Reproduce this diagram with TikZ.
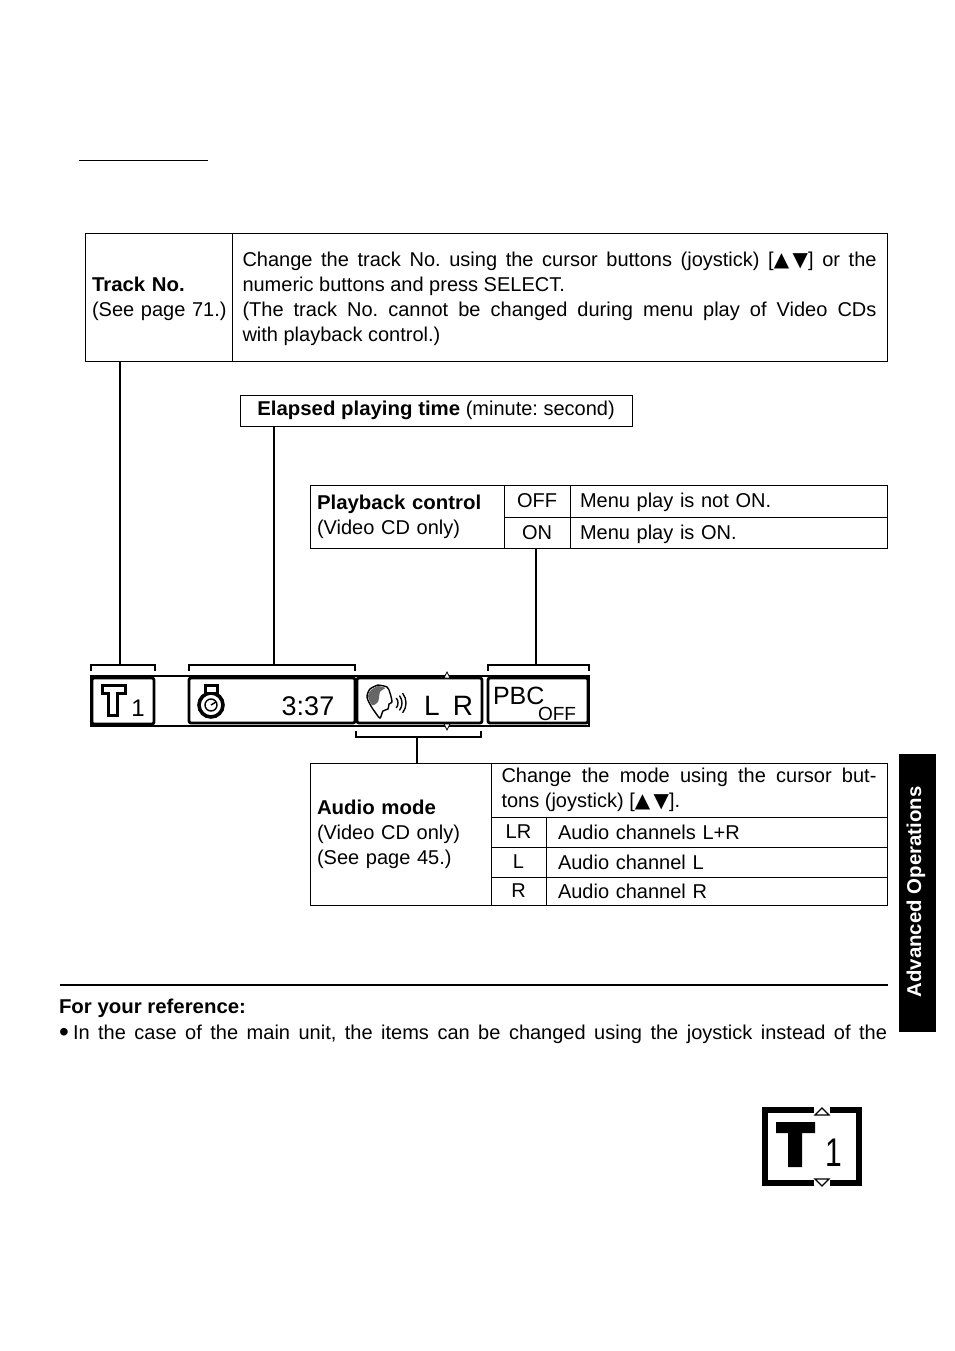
\documentclass[tikz,border=0pt]{standalone}
\usepackage{fontspec}
\setmainfont{Liberation Sans}[BoldFeatures={FakeStretch=1.02}]
\newfontfamily\symfont{DejaVu Sans}
\usetikzlibrary{positioning,calc}
\newcommand{\bodysize}{\fontsize{20}{25}\selectfont}
\newcommand{\updown}{{\symfont\fontsize{20}{25}\selectfont ▲\hspace{3.5pt}▼}}
\newcommand{\lowtext}[1]{\rule{0pt}{#1}}
\frenchspacing
\begin{document}
\begin{tikzpicture}[x=1pt, y=-1pt, node distance=0pt,
        every node/.style={font=\bodysize, inner sep=0pt, outer sep=0pt},
        tablecell/.style={draw, line width=1pt, inner xsep=7pt, align=left},
        textcell/.style={tablecell, inner xsep=10.5pt, align=justify},
        keycell/.style={draw, line width=1pt, align=center},
        dispcell/.style={draw, line width=2.8pt, rounded corners=2pt, fill=white},
        bracketline/.style={line width=1.2pt},
        linkline/.style={line width=1.1pt}]
        \useasboundingbox (0,0) rectangle (954,1351);
        \fill[white] (0,0) rectangle (954,1351);

        \draw[line width=1pt] (79,160.5) -- (208,160.5);

        \node[tablecell, text width=133pt, minimum height=128pt, anchor=north west] (trackhead) at (85,233)
            {\lowtext{18.5pt}\textbf{Track No.}\\\mbox{(See page 71.)}};
        \node[textcell, text width=634pt, minimum height=128pt, right=of trackhead] (trackinfo)
            {\lowtext{18.5pt}Change the track No. using the cursor buttons (joystick) [\updown] or the\linebreak numeric buttons and press SELECT.\\(The track No. cannot be changed during menu play of Video CDs\linebreak with playback control.)};

        \node[keycell, minimum width=392pt, minimum height=31pt, anchor=north west] (elapsed) at (240,395)
            {\textbf{Elapsed playing time} (minute: second)};

        \node[tablecell, text width=180pt, minimum height=63pt, anchor=north west] (pbchead) at (310,485)
            {\textbf{Playback control}\\(Video CD only)};
        \node[keycell, minimum width=66pt, minimum height=32pt, anchor=north west] (offkey) at (504,485) {OFF};
        \node[keycell, minimum width=66pt, minimum height=31pt, below=of offkey] (onkey) {ON};
        \node[tablecell, inner xsep=10pt, text width=297pt, minimum height=32pt, right=of offkey] (offinfo) {\lowtext{18pt}Menu play is not ON.};
        \node[tablecell, inner xsep=10pt, text width=297pt, minimum height=31pt, right=of onkey] (oninfo) {\lowtext{18pt}Menu play is ON.};

        \node[draw, line width=1.5pt, minimum width=498pt, minimum height=50pt, anchor=north west] (strip) at (91,676) {};
        \node[dispcell, minimum width=62pt, minimum height=46pt, anchor=north west] (trackcell) at (92,678) {};
        \node[dispcell, minimum width=166pt, minimum height=45pt, anchor=north west] (timecell) at (189,678) {};
        \node[dispcell, minimum width=125pt, minimum height=45pt, anchor=north west] (audiocell) at (357,678) {};
        \node[dispcell, minimum width=100pt, minimum height=45pt, anchor=north west] (pbccell) at (488,678) {};
        \foreach \basey/\tipy in {678/672, 724/730}
            \draw[line width=0.7pt, fill=white] (444,\basey) -- (450,\basey) -- (447,\tipy) -- cycle;

        \draw[line width=3pt, fill=white, line join=miter] (102,685) -- (125,685) -- (125,693) -- (117,693) -- (117,715) -- (108,715) -- (108,693) -- (102,693) -- cycle;
        \node[font=\fontsize{24}{24}\selectfont] (trackno) at (138,708) {1};
        \draw[line width=3.6pt, fill=white] (211,705) circle (12);
        \draw[line width=3pt, fill=white] (205,685) rectangle (217,693);
        \draw[line width=1.4pt] (211,705) circle (6);
        \draw[line width=1.4pt] (211,705) -- (216,702);
        \node[font=\fontsize{27}{27}\selectfont] (timeval) at (308,706) {3:37};
        \draw[line width=1.4pt, fill=white] plot[smooth] coordinates {(378,685) (387,687) (390,693) (392,702) (389,704) (388,709) (383,711) (380,718) (375,712) (371,706) (367,697) (370,689) (378,685)};
        \fill[black!60] plot[smooth] coordinates {(378,686) (385,688) (380,692) (378,702) (372,705) (368,696) (371,690) (378,686)};
        \foreach \waverad in {8,12,16}
            \draw[line width=1.4pt] ($(390,703)+(-38:\waverad)$) arc (-38:38:\waverad);
        \node[font=\fontsize{28}{28}\selectfont] (leftch) at (432,706) {L};
        \node[font=\fontsize{28}{28}\selectfont] (rightch) at (463,706) {R};
        \node[font=\fontsize{25}{25}\selectfont, anchor=base west] (pbclabel) at (493,704) {PBC};
        \node[font=\fontsize{19}{19}\selectfont, anchor=base west] (pbcstate) at (538,720) {OFF};

        \coordinate (tracktop) at (120,665);
        \coordinate (timetop) at (274,665);
        \coordinate (pbctop) at (536,665);
        \coordinate (audiotop) at (417,737);
        \draw[bracketline] (91,671) -- (91,665) -- (155,665) -- (155,671);
        \draw[bracketline] (189,671) -- (189,665) -- (355,665) -- (355,671);
        \draw[bracketline] (488,671) -- (488,665) -- (589,665) -- (589,671);
        \draw[bracketline] (356,731) -- (356,737) -- (481,737) -- (481,731);

        \node[tablecell, text width=167pt, minimum height=142pt, anchor=north west] (audiohead) at (310,763)
            {\textbf{Audio mode}\\(Video CD only)\\(See page 45.)};
        \node[textcell, text width=375pt, minimum height=54pt, anchor=north west] (audioinfo) at (491,763)
            {Change the mode using the cursor but-\linebreak tons (joystick) [\updown].};
        \node[keycell, minimum width=55pt, minimum height=30pt, anchor=north west] (lrkey) at (491,817) {LR};
        \node[keycell, minimum width=55pt, minimum height=30pt, below=of lrkey] (lkey) {L};
        \node[keycell, minimum width=55pt, minimum height=28pt, below=of lkey] (rkey) {R};
        \node[tablecell, inner xsep=12pt, text width=317pt, minimum height=30pt, right=of lrkey] (lrinfo) {Audio channels L+R};
        \node[tablecell, inner xsep=12pt, text width=317pt, minimum height=30pt, right=of lkey] (linfo) {Audio channel L};
        \node[tablecell, inner xsep=12pt, text width=317pt, minimum height=28pt, right=of rkey] (rinfo) {Audio channel R};

        \draw[linkline] (tracktop |- trackhead.south) -- (tracktop);
        \draw[linkline] (timetop |- elapsed.south) -- (timetop);
        \draw[linkline] (pbctop |- onkey.south) -- (pbctop);
        \draw[linkline] (audiotop) -- (audiotop |- audiohead.north);

        \draw[line width=1.2pt] (60,985) -- (888,985);
        \node[anchor=base west] (refhead) at (59,1013) {\textbf{For your reference:}};
        \node[anchor=base west] (refline) at (59,1039)
            {\makebox[828pt][s]{\makebox[14pt][l]{\raisebox{-2.5pt}{\fontsize{28}{25}\selectfont\textbullet}}In the case of the main unit, the items can be changed using the joystick instead of the}};

        \node[fill=black, minimum width=37pt, minimum height=278pt, anchor=north west] (sidetab) at (899,754) {};
        \node[rotate=90, text=white, font=\bodysize\bfseries] (sidetext) at (916,892) {Advanced Operations};

        \draw[line width=5.5pt] (765,1110) rectangle (859,1183);
        \fill[white] (814,1106) rectangle (830,1188);
        \foreach \basey/\tipy in {1115/1108, 1179/1186}
            \draw[line width=1.2pt, fill=white] (815,\basey) -- (829,\basey) -- (822,\tipy) -- cycle;
        \fill[black] (776,1122) -- (815,1122) -- (815,1133) -- (802,1133) -- (802,1167) -- (788,1167) -- (788,1133) -- (776,1133) -- cycle;
        \node[font=\fontsize{40}{40}\selectfont, xscale=0.75] (bigno) at (834,1153) {1};
    \end{tikzpicture}
\end{document}
